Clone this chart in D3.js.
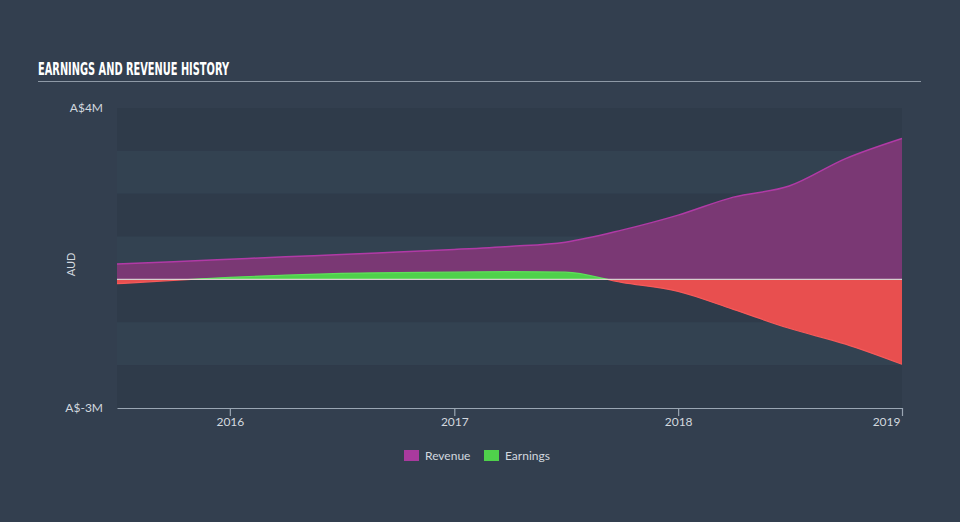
<!DOCTYPE html>
<html>
<head>
<meta charset="utf-8">
<script src="https://cdn.jsdelivr.net/npm/d3@7"></script>
<style>
  html, body { margin: 0; padding: 0; background: #333f4f; }
  svg { display: block; }
</style>
</head>
<body>
<svg id="chart" width="960" height="522"></svg>
<script>
// ---- Data (values in millions AUD) ----
const dates = ["2015-07-01","2015-10-01","2016-01-01","2016-04-01","2016-07-01","2016-10-01",
               "2017-01-01","2017-04-01","2017-07-01","2017-10-01","2018-01-01","2018-04-01",
               "2018-07-01","2018-10-01","2019-01-01"];
const revenue  = [0.36, 0.41, 0.47, 0.53, 0.58, 0.64, 0.70, 0.77, 0.87, 1.15, 1.50, 1.92, 2.18, 2.82, 3.29];
const earnings = [-0.10, -0.02, 0.05, 0.10, 0.14, 0.16, 0.17, 0.18, 0.17, -0.07, -0.28, -0.70, -1.14, -1.51, -1.98];
const yTickValues = [4, -3];
const yTickLabels = ["A$4M", "A$-3M"];
const xTickYears = ["2016", "2017", "2018", "2019"];
const legendLabels = ["Revenue", "Earnings"];

const parse = d3.timeParse("%Y-%m-%d");
const rows = dates.map((d, i) => ({ date: parse(d), rev: revenue[i], earn: earnings[i] }));

const svg = d3.select("#chart");
const W = 960, H = 522;
const L = 117, R = 902, T = 108, B = 408;

svg.append("rect").attr("width", W).attr("height", H).attr("fill", "#333f4f");

// Title
svg.append("text")
  .attr("x", 38).attr("y", 75)
  .attr("fill", "#ffffff")
  .attr("font-family", "'DejaVu Sans Condensed', 'DejaVu Sans', sans-serif")
  .attr("font-weight", "bold")
  .attr("font-size", 17)
  .attr("textLength", 191)
  .attr("lengthAdjust", "spacingAndGlyphs")
  .text("EARNINGS AND REVENUE HISTORY");
svg.append("line")
  .attr("x1", 38).attr("x2", 921).attr("y1", 81.5).attr("y2", 81.5)
  .attr("stroke", "#8e99a6").attr("stroke-width", 1.2);

const x = d3.scaleTime().domain([parse("2015-07-01"), parse("2019-01-01")]).range([L, R]);
const y = d3.scaleLinear().domain([-3, 4]).range([B, T]);

// Bands
const bandEdges = d3.range(4, -3, -1);
svg.append("g").selectAll("rect").data(bandEdges).join("rect")
  .attr("x", L).attr("width", R - L)
  .attr("y", d => y(d)).attr("height", d => y(d - 1) - y(d))
  .attr("fill", (d, i) => i % 2 === 0 ? "#2f3b4a" : "#334251");

// Revenue area
const revArea = d3.area().x(d => x(d.date)).y0(y(0)).y1(d => y(d.rev)).curve(d3.curveMonotoneX);
const revLine = d3.line().x(d => x(d.date)).y(d => y(d.rev)).curve(d3.curveMonotoneX);
svg.append("path").datum(rows).attr("d", revArea).attr("fill", "#7a3874");
svg.append("path").datum(rows).attr("d", revLine).attr("fill", "none")
  .attr("stroke", "#b13aa6").attr("stroke-width", 1.5);

// Earnings area, split by sign via clip paths
const defs = svg.append("defs");
defs.append("clipPath").attr("id", "clipPos").append("rect")
  .attr("x", L).attr("y", T).attr("width", R - L).attr("height", y(0) - T);
defs.append("clipPath").attr("id", "clipNeg").append("rect")
  .attr("x", L).attr("y", y(0)).attr("width", R - L).attr("height", B - y(0));

const earnArea = d3.area().x(d => x(d.date)).y0(y(0)).y1(d => y(d.earn)).curve(d3.curveMonotoneX);
const earnLine = d3.line().x(d => x(d.date)).y(d => y(d.earn)).curve(d3.curveMonotoneX);
svg.append("path").datum(rows).attr("d", earnArea).attr("fill", "#4fd14b").attr("clip-path", "url(#clipPos)");
svg.append("path").datum(rows).attr("d", earnArea).attr("fill", "#e84f4f").attr("clip-path", "url(#clipNeg)");
svg.append("path").datum(rows).attr("d", earnLine).attr("fill", "none")
  .attr("stroke", "#5ee05a").attr("stroke-width", 1.2).attr("clip-path", "url(#clipPos)");
svg.append("path").datum(rows).attr("d", earnLine).attr("fill", "none")
  .attr("stroke", "#f55a5a").attr("stroke-width", 1.2).attr("clip-path", "url(#clipNeg)");

// Zero line
svg.append("line").attr("x1", L).attr("x2", R).attr("y1", y(0)).attr("y2", y(0))
  .attr("stroke", "#ffffff").attr("stroke-opacity", 0.7).attr("stroke-width", 1.2);

// Y labels
svg.append("g").selectAll("text").data(yTickValues).join("text")
  .attr("x", 103).attr("y", d => y(d)).attr("dy", "0.35em")
  .attr("text-anchor", "end")
  .attr("fill", "#d2d8df").attr("font-family", "Lato, sans-serif").attr("font-size", 12)
  .text((d, i) => yTickLabels[i]);
svg.append("text")
  .attr("transform", `translate(75, ${y(0.35)}) rotate(-90)`)
  .attr("text-anchor", "middle")
  .attr("fill", "#d2d8df").attr("font-family", "Lato, sans-serif").attr("font-size", 11)
  .text("AUD");

// X axis
const xAxis = d3.axisBottom(x)
  .tickValues(xTickYears.map(yr => parse(yr + "-01-01")))
  .tickFormat(d3.timeFormat("%Y"))
  .tickSize(8).tickSizeOuter(0);
const gx = svg.append("g").attr("transform", `translate(0, ${B})`).call(xAxis);
gx.select(".domain").attr("stroke", "#9aa6b3").attr("stroke-width", 1.2);
gx.selectAll(".tick line").attr("stroke", "#9aa6b3").attr("stroke-width", 1.2);
gx.selectAll(".tick text")
  .attr("fill", "#d2d8df").attr("font-family", "Lato, sans-serif").attr("font-size", 12)
  .attr("dy", "0.35em").attr("y", 14)
  .attr("text-anchor", (d, i, n) => i === n.length - 1 ? "end" : "middle")
  .attr("dx", (d, i, n) => i === n.length - 1 ? -2 : 0);

// Legend
const legendColors = ["#a93a9e", "#4fd14b"];
const legendX = [404, 484];
const lg = svg.append("g");
legendLabels.forEach((lab, i) => {
  lg.append("rect").attr("x", legendX[i]).attr("y", 450).attr("width", 15).attr("height", 11)
    .attr("fill", legendColors[i]);
  lg.append("text").attr("x", legendX[i] + 21).attr("y", 460)
    .attr("fill", "#d2d8df").attr("font-family", "Lato, sans-serif").attr("font-size", 12)
    .text(lab);
});
</script>
</body>
</html>
